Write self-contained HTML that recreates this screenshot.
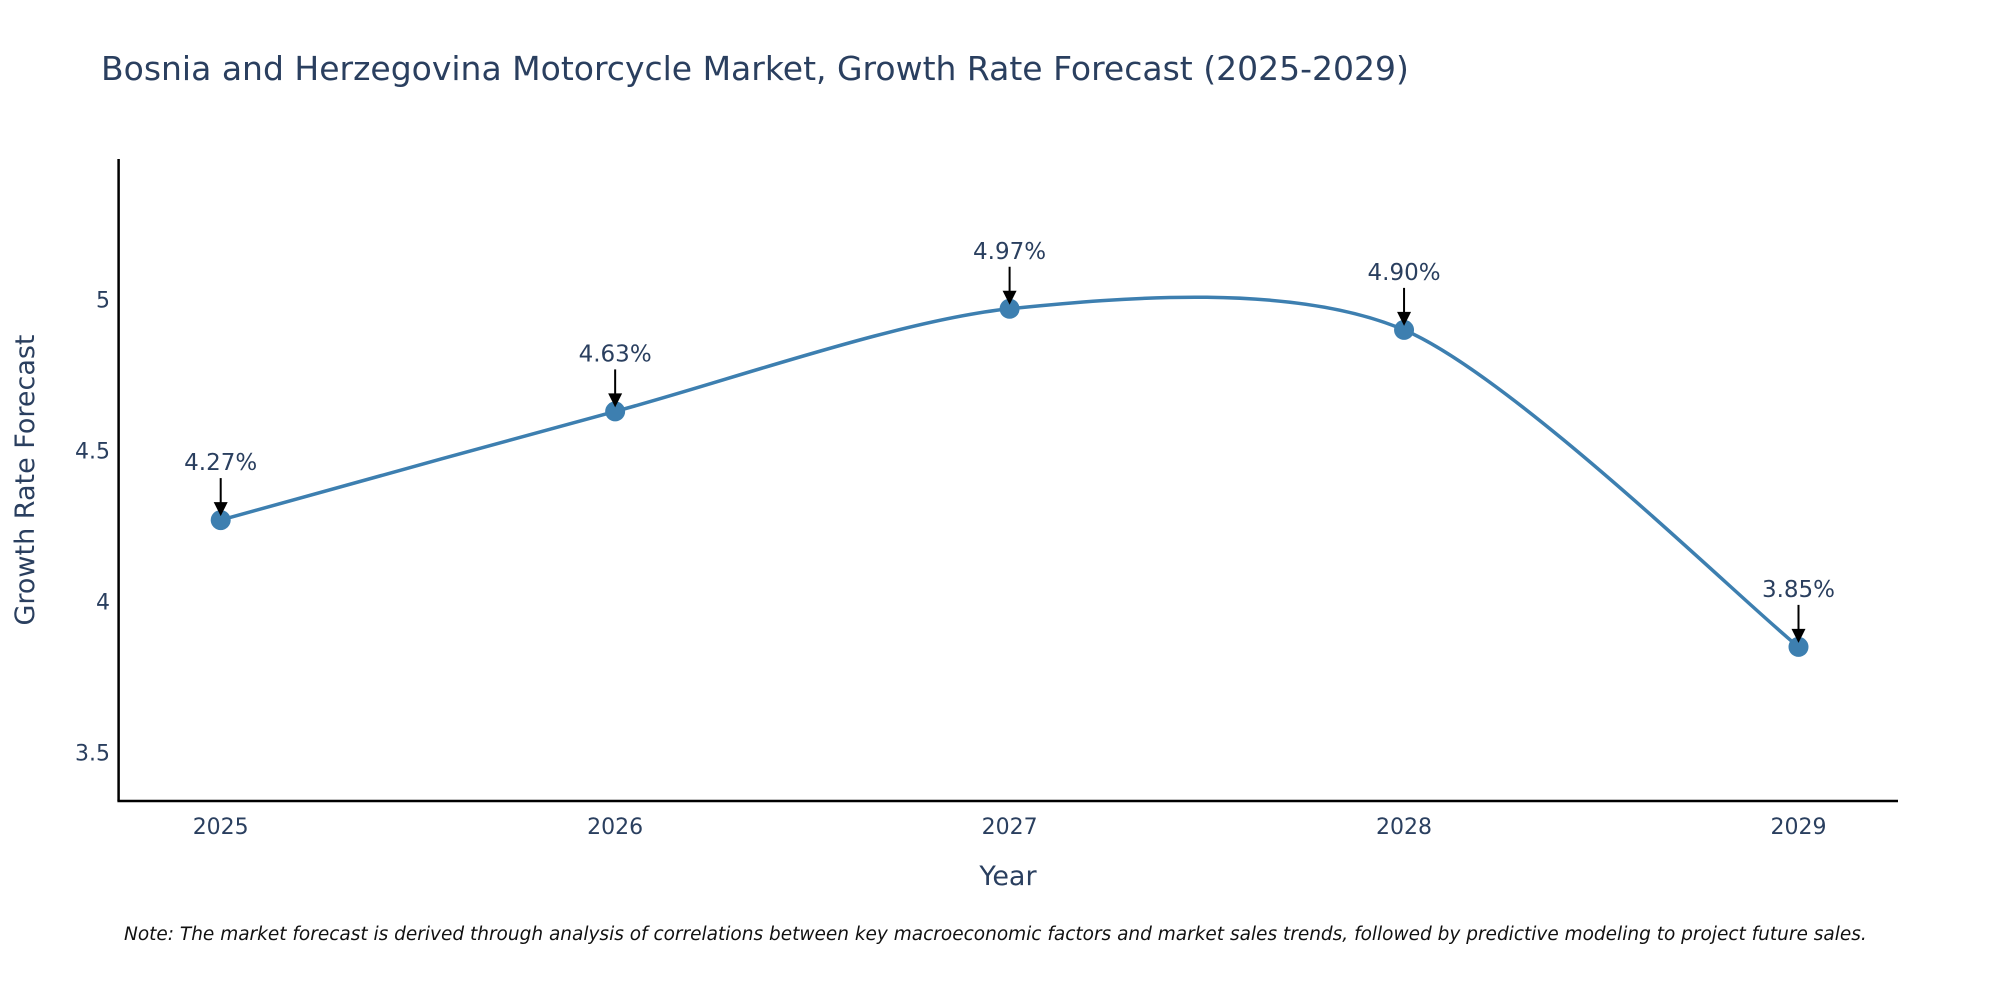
<!DOCTYPE html>
<html><head><meta charset="utf-8"><style>
html,body{margin:0;padding:0;background:#fff;}
svg{display:block;font-family:"DejaVu Sans","Liberation Sans",sans-serif;}
</style></head><body>
<svg id="chart" width="2000" height="1000" viewBox="0 0 2000 1000" xmlns="http://www.w3.org/2000/svg">
<rect width="2000" height="1000" fill="#fff"/>
<text x="101" y="80" font-size="33" fill="#2a3f5f">Bosnia and Herzegovina Motorcycle Market, Growth Rate Forecast (2025-2029)</text>
<g id="plot"></g>
<text x="1008" y="885" font-size="27" fill="#2a3f5f" text-anchor="middle">Year</text>
<text x="0" y="0" font-size="27" fill="#2a3f5f" text-anchor="middle" transform="translate(34,480) rotate(-90)">Growth Rate Forecast</text>
<text x="124" y="940" font-size="18.5" font-style="italic" fill="#111">Note: The market forecast is derived through analysis of correlations between key macroeconomic factors and market sales trends, followed by predictive modeling to project future sales.</text>
</svg>
<script>
const years = [2025, 2026, 2027, 2028, 2029];
const growth = [4.27, 4.63, 4.97, 4.90, 3.85];
const labels = ["4.27%", "4.63%", "4.97%", "4.90%", "3.85%"];
const yTicks = [3.5, 4, 4.5, 5];

const NS = "http://www.w3.org/2000/svg";
const g = document.getElementById("plot");
const x = v => 220.7 + (v - 2025) * (1798.5 - 220.7) / 4;
const y = v => 299.7 + (5 - v) * 301.9;
function mk(t, a, p) { const e = document.createElementNS(NS, t); for (const k in a) e.setAttribute(k, a[k]); (p || g).appendChild(e); return e; }

let ax = mk("line", {x1:118.6, y1:159, x2:118.6, y2:801, stroke:"#000", "stroke-width":2.5});


ax = mk("line", {x1:117.4, y1:801, x2:1898, y2:801, stroke:"#000", "stroke-width":2.5});



yTicks.forEach(v => {
  const t = mk("text", {x:110, y:y(v)+8, "font-size":22, fill:"#2a3f5f", "text-anchor":"end"});
  t.textContent = v;
  
  
});
years.forEach(v => {
  const t = mk("text", {x:x(v), y:834, "font-size":22, fill:"#2a3f5f", "text-anchor":"middle"});
  t.textContent = v;
  
  
});

const pts = years.map((v, i) => [x(v), y(growth[i])]);
let d = "M" + pts[0][0] + "," + pts[0][1];
const s = 0.42;
for (let i = 0; i < pts.length - 1; i++) {
  const p0 = pts[Math.max(i-1,0)], p1 = pts[i], p2 = pts[i+1], p3 = pts[Math.min(i+2,pts.length-1)];
  const c1 = [p1[0] + (p2[0]-p0[0])*s/3, p1[1] + (p2[1]-p0[1])*s/3];
  const c2 = [p2[0] - (p3[0]-p1[0])*s/3, p2[1] - (p3[1]-p1[1])*s/3];
  d += " C" + c1 + " " + c2 + " " + p2;
}
const line = mk("path", {d:d, fill:"none", stroke:"#3d7fb0", "stroke-width":3.5});



pts.forEach((p, i) => {
  const c = mk("circle", {cx:p[0], cy:p[1], r:10, fill:"#3d7fb0"});
  
  
  const a = mk("line", {x1:p[0], y1:p[1]-42, x2:p[0], y2:p[1]-16, stroke:"#000", "stroke-width":2});
  
  
  const h = mk("polygon", {points:(p[0]-7)+","+(p[1]-18)+" "+(p[0]+7)+","+(p[1]-18)+" "+p[0]+","+(p[1]-4), fill:"#000"});
  
  
  const t = mk("text", {x:p[0], y:p[1]-50, "font-size":23, fill:"#2a3f5f", "text-anchor":"middle"});
  t.textContent = labels[i];
  
  
});
</script>
</body></html>
